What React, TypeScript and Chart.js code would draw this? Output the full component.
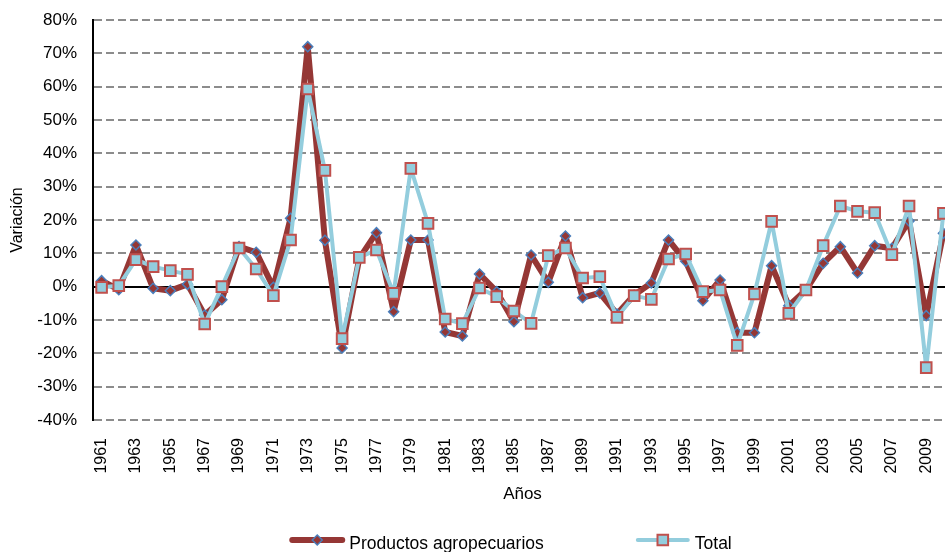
import React, { useEffect, useRef } from "react";
import { Chart, registerables } from "chart.js";
import { drawPoint } from "chart.js/helpers";

Chart.register(...registerables);

const years = [
  1961, 1962, 1963, 1964, 1965, 1966, 1967, 1968, 1969, 1970,
  1971, 1972, 1973, 1974, 1975, 1976, 1977, 1978, 1979, 1980,
  1981, 1982, 1983, 1984, 1985, 1986, 1987, 1988, 1989, 1990,
  1991, 1992, 1993, 1994, 1995, 1996, 1997, 1998, 1999, 2000,
  2001, 2002, 2003, 2004, 2005, 2006, 2007, 2008, 2009, 2010,
];

const productos = [
  1.8, -0.9, 12.5, -0.5, -1.2, 0.7, -8.5, -3.9, 12.0, 10.3,
  -0.2, 20.5, 72.0, 13.9, -18.4, 8.5, 16.2, -7.5, 14.0, 14.0,
  -13.6, -14.8, 3.8, -1.5, -10.5, 9.5, 1.3, 15.2, -3.3, -1.9,
  -8.2, -2.5, 1.1, 14.0, 7.6, -4.2, 2.0, -13.8, -13.8, 6.3,
  -5.7, -1.0, 7.0, 12.0, 4.1, 12.3, 11.5, 19.7, -8.7, 16.0,
];

const total = [
  -0.2, 0.3, 8.1, 6.0, 4.8, 3.7, -11.2, 0.0, 11.6, 5.3,
  -2.7, 14.0, 59.3, 34.9, -15.6, 8.8, 11.0, -2.0, 35.5, 19.0,
  -9.7, -11.1, -0.4, -3.0, -7.3, -11.0, 9.3, 11.6, 2.6, 3.0,
  -9.2, -2.7, -3.8, 8.3, 9.8, -1.5, -1.0, -17.6, -2.2, 19.6,
  -8.0, -1.0, 12.3, 24.2, 22.6, 22.2, 9.6, 24.2, -24.3, 22.0,
];

const yearTicks = [
  1961, 1963, 1965, 1967, 1969, 1971, 1973, 1975, 1977, 1979, 1981, 1983, 1985,
  1987, 1989, 1991, 1993, 1995, 1997, 1999, 2001, 2003, 2005, 2007, 2009,
];

const seriesNames = ["Productos agropecuarios", "Total"];

const FONT = "'Liberation Sans', Arial, sans-serif";

const RED_LINE = "#953735";
const BLUE_MARK = "#4a7ebb";
const LIGHT_BLUE = "#93cddd";
const RED_MARK = "#c0504d";

const legendPlugin = {
  id: "excelLegend",
  afterDraw(chart: any) {
    const ctx = chart.ctx;
    const area = chart.chartArea;
    const items = chart.data.datasets;
    ctx.save();
    ctx.font = `17.5px ${FONT}`;
    const lineLen = 50;
    const textOff = 57;
    const itemGap = 94;
    const widths = items.map((ds: any) => textOff + ctx.measureText(ds.label).width);
    const W = widths.reduce((a: number, b: number) => a + b, 0) + itemGap * (items.length - 1);
    let x = (area.left + area.right) / 2 - 10.5 - W / 2;
    const y = 540;
    items.forEach((ds: any, i: number) => {
      ctx.strokeStyle = ds.borderColor;
      ctx.lineWidth = ds.borderWidth;
      ctx.lineCap = "round";
      ctx.beginPath();
      ctx.moveTo(x, y);
      ctx.lineTo(x + lineLen, y);
      ctx.stroke();
      ctx.fillStyle = ds.pointBackgroundColor;
      ctx.strokeStyle = ds.pointBorderColor;
      ctx.lineWidth = ds.pointBorderWidth;
      drawPoint(
        ctx,
        { pointStyle: ds.pointStyle, radius: ds.pointRadius, borderWidth: ds.pointBorderWidth, rotation: 0 },
        x + lineLen / 2,
        y
      );
      ctx.fillStyle = "#000";
      ctx.textAlign = "left";
      ctx.textBaseline = "middle";
      ctx.fillText(ds.label, x + textOff, y + 4);
      x += widths[i] + itemGap;
    });
    ctx.restore();
  },
};

export default function App() {
  const ref = useRef<HTMLCanvasElement | null>(null);

  useEffect(() => {
    if (!ref.current) return;
    const chart = new Chart(ref.current, {
      type: "line",
      data: {
        datasets: [
          {
            label: seriesNames[0],
            data: years.map((yr, i) => ({ x: yr, y: productos[i] })),
            borderColor: RED_LINE,
            borderWidth: 6,
            borderJoinStyle: "round",
            borderCapStyle: "round",
            pointStyle: "rectRot",
            pointRadius: 5,
            pointBackgroundColor: RED_LINE,
            pointBorderColor: BLUE_MARK,
            pointBorderWidth: 1.5,
            tension: 0,
            order: 2,
            clip: false,
          },
          {
            label: seriesNames[1],
            data: years.map((yr, i) => ({ x: yr, y: total[i] })),
            borderColor: LIGHT_BLUE,
            borderWidth: 4,
            borderJoinStyle: "round",
            borderCapStyle: "round",
            pointStyle: "rect",
            pointRadius: 7.5,
            pointBackgroundColor: LIGHT_BLUE,
            pointBorderColor: RED_MARK,
            pointBorderWidth: 2,
            tension: 0,
            order: 1,
            clip: false,
          },
        ],
      },
      options: {
        animation: false,
        responsive: false,
        events: [],
        layout: { autoPadding: false, padding: { left: 0, right: 0, top: 20, bottom: 32 } },
        plugins: {
          legend: { display: false },
          tooltip: { enabled: false },
        },
        scales: {
          x: {
            type: "linear",
            min: 1960.5,
            max: 2010.5,
            afterBuildTicks: (scale: any) => {
              scale.ticks = yearTicks.map((v) => ({ value: v }));
            },
            afterFit: (scale: any) => {
              scale.height = 100;
              scale.paddingLeft = 0;
              scale.paddingRight = 0;
            },
            grid: { display: false, drawTicks: false },
            border: { display: false },
            ticks: {
              autoSkip: false,
              minRotation: 90,
              maxRotation: 90,
              padding: 18,
              color: "#000",
              font: { family: FONT, size: 16 },
              callback: (v: any) => String(v),
            },
            title: {
              display: true,
              text: "Años",
              color: "#000",
              font: { family: FONT, size: 17 },
              padding: { top: 0, bottom: 15 },
            },
          },
          y: {
            min: -40,
            max: 80,
            afterFit: (scale: any) => {
              scale.width = 93;
              scale.paddingTop = 0;
              scale.paddingBottom = 0;
            },
            ticks: {
              stepSize: 10,
              padding: 16,
              color: "#000",
              font: { family: FONT, size: 17 },
              callback: (v: any) => `${v}%`,
            },
            grid: {
              drawTicks: false,
              color: (c: any) => (c.tick && c.tick.value === 0 ? "#000" : "#8c8c8c"),
              lineWidth: 2,
            },
            border: {
              display: true,
              color: "#000",
              width: 2,
              dash: (c: any) => (c.tick && c.tick.value !== 0 ? [8, 4] : []),
            },
            title: {
              display: true,
              text: "Variación",
              color: "#000",
              font: { family: FONT, size: 16 },
              padding: { top: 8, bottom: 0 },
            },
          },
        },
      },
      plugins: [legendPlugin],
    });
    return () => chart.destroy();
  }, []);

  return (
    <div
      style={{
        position: "fixed",
        left: 0,
        top: 0,
        width: 945,
        height: 552,
        overflow: "hidden",
        background: "#fff",
      }}
    >
      <canvas ref={ref} width={952} height={552} style={{ display: "block" }} />
    </div>
  );
}
